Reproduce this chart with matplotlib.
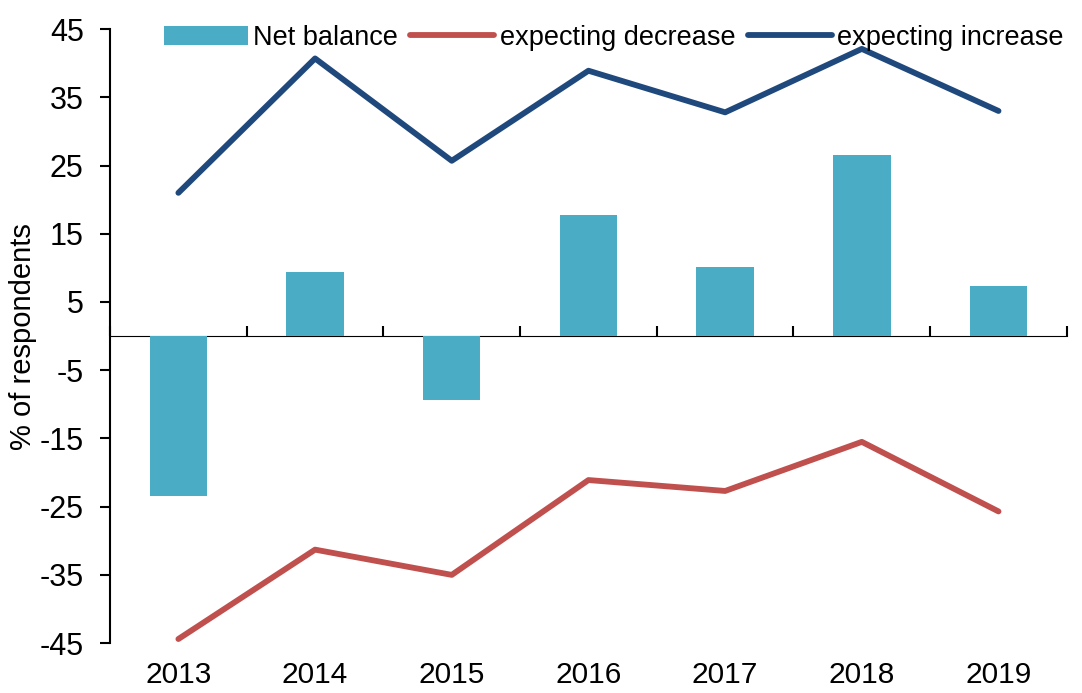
import numpy as np
import matplotlib.pyplot as plt
from matplotlib.ticker import FixedLocator, NullFormatter

plt.rcParams['font.family'] = ['Liberation Sans', 'DejaVu Sans']
plt.rcParams['axes.unicode_minus'] = False

years = ["2013", "2014", "2015", "2016", "2017", "2018", "2019"]
net_balance = [-23.4, 9.4, -9.3, 17.8, 10.1, 26.6, 7.3]
expecting_decrease = [-44.4, -31.3, -35.0, -21.1, -22.7, -15.5, -25.7]
expecting_increase = [21.0, 40.7, 25.7, 38.9, 32.8, 42.1, 33.0]

x = np.arange(len(years))

fig = plt.figure(figsize=(10.82, 6.93), dpi=100)
ax = fig.add_axes([0.1017, 0.072, 0.8843, 0.886])

b = ax.bar(x, net_balance, width=0.42, color="#4BACC6", label="Net balance", zorder=2)
l1, = ax.plot(x, expecting_decrease, color="#C0504D", lw=4.2, label="expecting decrease",
              solid_capstyle="round", zorder=3)
l2, = ax.plot(x, expecting_increase, color="#1F497D", lw=4.2, label="expecting increase",
              solid_capstyle="round", zorder=3)

ax.set_xlim(-0.5, len(years) - 0.5)
ax.set_ylim(-45, 45)
ax.set_yticks(np.arange(-45, 46, 10))
ax.tick_params(axis="y", labelsize=22, length=7, width=1.5, direction="out", pad=12)

ax.set_xticks(x)
ax.set_xticklabels(years)
ax.tick_params(axis="x", labelsize=21.5, length=0, pad=13)

for s in ["top", "right", "bottom"]:
    ax.spines[s].set_visible(False)
ax.spines["left"].set_linewidth(1.5)

# axis line at zero with ticks at category boundaries
sec = ax.secondary_xaxis(0.5)
sec.xaxis.set_major_locator(FixedLocator(np.arange(-0.5, len(years), 1.0)))
sec.xaxis.set_major_formatter(NullFormatter())
sec.tick_params(axis="x", length=7, width=1.5, direction="out")
sec.spines["bottom"].set_linewidth(1.5)

ax.set_ylabel("% of respondents", fontsize=21, labelpad=2)

ax.legend([b, l1, l2], ["Net balance", "expecting decrease", "expecting increase"],
          loc="upper left", bbox_to_anchor=(0.045, 1.025), ncol=3, frameon=False,
          fontsize=19.5, handlelength=3.1, handletextpad=0.2, columnspacing=0.45,
          borderaxespad=0)

fig.savefig("out.png", dpi=100)
